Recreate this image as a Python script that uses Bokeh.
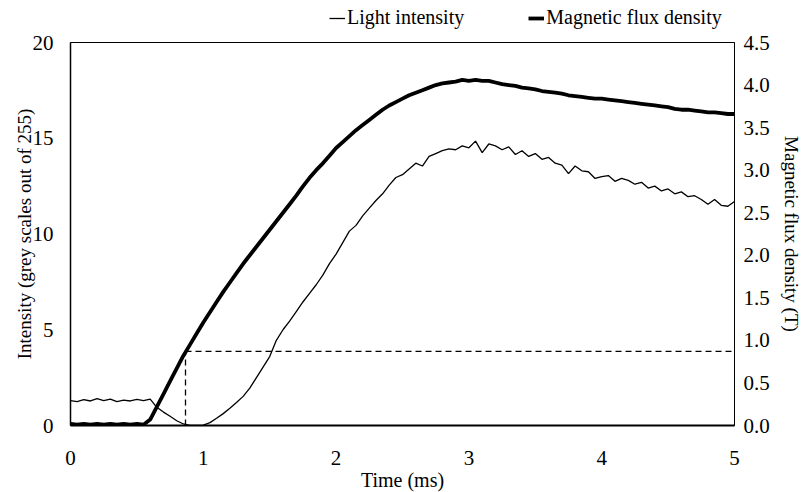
from bokeh.plotting import figure
from bokeh.layouts import column
from bokeh.models import Range1d, LinearAxis, FixedTicker, Legend, LegendItem, NumeralTickFormatter
from bokeh.embed import file_html
from bokeh.resources import INLINE

# ---------------- data ----------------
time_ms = [round(i * 0.05, 2) for i in range(101)]

light_intensity = [
    1.30, 1.25, 1.35, 1.28, 1.40, 1.30, 1.38, 1.25, 1.32, 1.28, 1.36, 1.30, 1.38,
    0.95, 0.70, 0.48, 0.25, 0.08, 0.00, 0.00, 0.02, 0.15, 0.38, 0.62, 0.90, 1.20,
    1.52, 1.95, 2.50, 3.05, 3.60, 4.45, 5.00, 5.45, 5.95, 6.45, 6.90, 7.35, 7.85,
    8.45, 8.95, 9.55, 10.15, 10.45, 10.95, 11.35, 11.75, 12.10, 12.55, 12.95, 13.10,
    13.40, 13.70, 13.55, 14.05, 14.20, 14.35, 14.45, 14.40, 14.60, 14.50, 14.85,
    14.25, 14.70, 14.60, 14.40, 14.55, 14.15, 14.35, 14.05, 14.20, 13.90, 14.00,
    13.70, 13.60, 13.15, 13.55, 13.30, 13.25, 12.90, 13.00, 13.05, 12.75, 12.90,
    12.80, 12.60, 12.70, 12.40, 12.50, 12.25, 12.35, 12.10, 12.20, 11.95, 12.00,
    11.80, 11.55, 11.80, 11.50, 11.45, 11.70,
]

flux_density = [
    0.02, 0.01, 0.02, 0.01, 0.02, 0.01, 0.02, 0.01, 0.02, 0.01, 0.02, 0.01, 0.07,
    0.22, 0.37, 0.52, 0.67, 0.82, 0.95, 1.08, 1.21, 1.33, 1.45, 1.57, 1.68, 1.79,
    1.90, 2.00, 2.10, 2.20, 2.30, 2.40, 2.50, 2.60, 2.70, 2.81, 2.91, 3.00, 3.08,
    3.17, 3.26, 3.33, 3.40, 3.47, 3.53, 3.59, 3.65, 3.71, 3.76, 3.80, 3.84, 3.88,
    3.91, 3.94, 3.97, 4.00, 4.02, 4.03, 4.04, 4.06, 4.05, 4.06, 4.05, 4.05, 4.03,
    4.01, 4.00, 3.99, 3.97, 3.96, 3.95, 3.93, 3.92, 3.91, 3.90, 3.88, 3.87, 3.86,
    3.85, 3.84, 3.84, 3.83, 3.82, 3.81, 3.80, 3.79, 3.78, 3.77, 3.76, 3.75, 3.74,
    3.72, 3.71, 3.71, 3.70, 3.69, 3.68, 3.68, 3.67, 3.66, 3.66,
]

threshold_time = 0.866
threshold_flux = 0.87

x_ticks = [0, 1, 2, 3, 4, 5]
left_ticks = [0, 5, 10, 15, 20]
right_ticks = [0.0, 0.5, 1.0, 1.5, 2.0, 2.5, 3.0, 3.5, 4.0, 4.5]
series_names = ["Light intensity", "Magnetic flux density"]

FONT = "Liberation Serif"
THIN = 1.3
THICK = 3.8

# ---------------- main chart ----------------
p = figure(frame_width=664, frame_height=383, output_backend="svg", toolbar_location=None,
           x_range=Range1d(0, 5), y_range=Range1d(0, 20),
           min_border_left=70, min_border_right=0, min_border_top=12, min_border_bottom=0)
p.extra_y_ranges = {"B": Range1d(0, 4.5)}

p.xgrid.visible = False
p.ygrid.visible = False
p.outline_line_color = "black"
p.outline_line_width = 1

p.line(time_ms, light_intensity, line_color="black", line_width=THIN)
p.line(time_ms, flux_density, line_color="black", line_width=THICK, y_range_name="B")
p.line([threshold_time, threshold_time], [0, threshold_flux], y_range_name="B",
       line_color="black", line_width=1.3, line_dash="6 4")
p.line([threshold_time, 5], [threshold_flux, threshold_flux], y_range_name="B",
       line_color="black", line_width=1.3, line_dash="6 4")

def style_axis(ax, ticks):
    ax.ticker = FixedTicker(ticks=ticks)
    ax.major_tick_out = 0
    ax.major_tick_in = 0
    ax.minor_tick_out = 0
    ax.minor_tick_in = 0
    ax.major_label_text_font = FONT
    ax.major_label_text_font_size = "21px"
    ax.major_label_text_color = "black"
    ax.axis_label_text_font = FONT
    ax.axis_label_text_font_size = "19px"
    ax.axis_label_text_font_style = "normal"
    ax.axis_label_text_color = "black"
    ax.axis_line_color = "black"

xa = p.xaxis[0]
style_axis(xa, x_ticks)
xa.axis_label = "Time (ms)"
xa.axis_label_text_font_size = "20px"
xa.axis_line_width = 2
xa.major_label_standoff = 25
xa.axis_label_standoff = 1

ya = p.yaxis[0]
style_axis(ya, left_ticks)
ya.axis_label = "Intensity (grey scales out of 255)"
ya.axis_line_width = 1.5
ya.major_label_standoff = 17
ya.axis_label_standoff = -5

ra = LinearAxis(y_range_name="B")
style_axis(ra, right_ticks)
ra.formatter = NumeralTickFormatter(format="0.0")
ra.axis_label = "Magnetic flux density (T)"
ra.axis_line_width = 1
ra.major_label_standoff = 9
ra.axis_label_standoff = 8
p.add_layout(ra, "right")

# ---------------- legend strip above the chart ----------------
# (its frame is aligned with the chart frame by the column layout; the sample
#  lines sit outside its visible x-range, so only the legend itself shows)
lg = figure(width=796, height=30, output_backend="svg", toolbar_location=None,
            x_range=Range1d(-2, -1), y_range=Range1d(0, 20),
            x_axis_type=None, y_axis_type=None, min_border=0)
lg.outline_line_color = None
lg.xgrid.visible = False
lg.ygrid.visible = False
s_light = lg.line(time_ms, light_intensity, line_color="black", line_width=THIN)
s_flux = lg.line(time_ms, flux_density, line_color="black", line_width=THICK)

legend = Legend(items=[LegendItem(label=series_names[0], renderers=[s_light]),
                       LegendItem(label=series_names[1], renderers=[s_flux])],
                orientation="horizontal", location=(259, 1))
legend.label_text_font = FONT
legend.label_text_font_size = "20px"
legend.label_text_color = "black"
legend.glyph_width = 16
legend.label_standoff = 2
legend.spacing = 64
legend.padding = 2
legend.margin = 0
legend.border_line_color = None
legend.background_fill_alpha = 0
lg.add_layout(legend, "center")

page = column(lg, p, spacing=0)
open("out.html", "w").write(file_html(page, INLINE))
